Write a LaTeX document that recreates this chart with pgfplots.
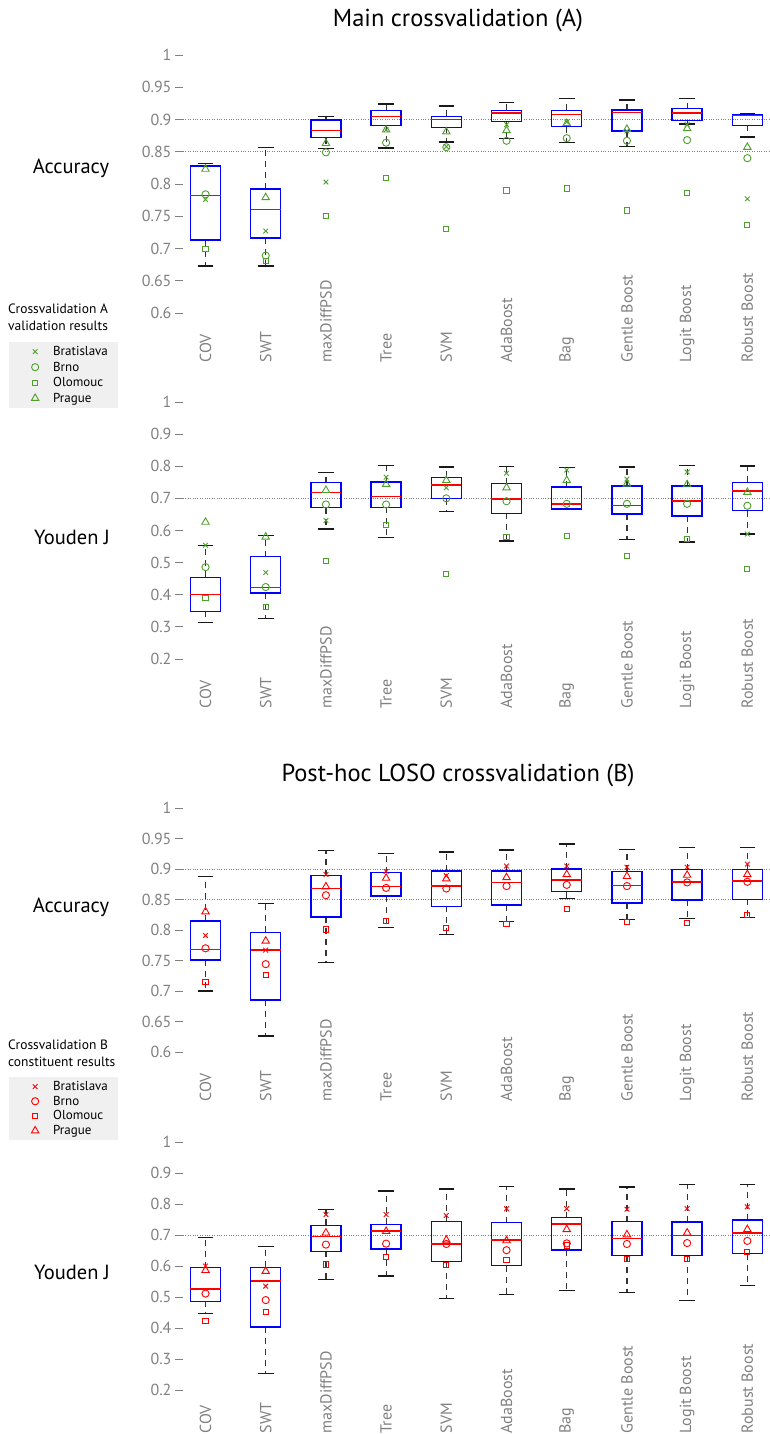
\documentclass[border=0pt]{standalone}
\usepackage{pgfplots}
\pgfplotsset{compat=1.18}
\usepackage{pgfplotstable}
\usepackage{fontspec}
\setmainfont{PT Sans}

\definecolor{grn}{RGB}{77,160,45}
\definecolor{tickgray}{RGB}{128,128,128}

% box statistics: position, lower whisker, lower quartile, median, upper quartile, upper whisker
\pgfplotstableread{
x lw q1 med q3 uw
0 0.673 0.713 0.782 0.828 0.832
1 0.673 0.716 0.760 0.792 0.857
2 0.855 0.872 0.883 0.899 0.905
3 0.856 0.891 0.905 0.914 0.924
4 0.865 0.888 0.900 0.905 0.921
5 0.871 0.897 0.910 0.914 0.926
6 0.864 0.889 0.908 0.914 0.933
7 0.858 0.882 0.911 0.915 0.930
8 0.893 0.898 0.910 0.917 0.932
9 0.873 0.891 0.906 0.908 0.909
}\accA
\pgfplotstableread{
x lw q1 med q3 uw
0 0.314 0.348 0.400 0.454 0.554
1 0.326 0.406 0.422 0.519 0.585
2 0.605 0.671 0.719 0.749 0.781
3 0.578 0.672 0.705 0.751 0.802
4 0.660 0.699 0.742 0.765 0.798
5 0.567 0.653 0.698 0.746 0.799
6 0.665 0.667 0.683 0.735 0.795
7 0.572 0.651 0.677 0.739 0.798
8 0.564 0.645 0.692 0.739 0.803
9 0.589 0.662 0.723 0.750 0.801
}\youA
\pgfplotstableread{
x lw q1 med q3 uw
0 0.700 0.751 0.768 0.815 0.888
1 0.626 0.685 0.767 0.796 0.844
2 0.747 0.821 0.868 0.889 0.930
3 0.804 0.856 0.871 0.894 0.925
4 0.793 0.839 0.872 0.897 0.928
5 0.814 0.841 0.878 0.897 0.931
6 0.852 0.863 0.882 0.900 0.941
7 0.817 0.844 0.873 0.896 0.932
8 0.819 0.849 0.879 0.899 0.935
9 0.821 0.850 0.880 0.899 0.935
}\accB
\pgfplotstableread{
x lw q1 med q3 uw
0 0.446 0.486 0.526 0.595 0.692
1 0.253 0.403 0.551 0.596 0.662
2 0.557 0.647 0.695 0.731 0.782
3 0.568 0.655 0.713 0.734 0.842
4 0.496 0.614 0.671 0.743 0.848
5 0.509 0.601 0.684 0.740 0.856
6 0.522 0.652 0.735 0.756 0.848
7 0.515 0.633 0.688 0.743 0.855
8 0.489 0.633 0.698 0.742 0.864
9 0.538 0.640 0.706 0.748 0.862
}\youB

\pgfplotsset{
  panel/.style={
    scale only axis, width=586pt,
    xmin=-0.374, xmax=9.36,
    axis line style={draw=none},
    xtick={0,...,9},
    xticklabels={COV,SWT,maxDiffPSD,Tree,SVM,AdaBoost,Bag,Gentle Boost,Logit Boost,Robust Boost},
    xtick style={draw=none},
    xticklabel style={rotate=90, anchor=west, font=\fontsize{16}{16}\selectfont, text=tickgray},
    ytick pos=left,
    ytick style={draw=tickgray, line width=0.8pt},
    tick align=outside, major tick length=8pt,
    yticklabel style={font=\fontsize{16}{16}\selectfont, text=tickgray},
    /pgf/number format/assume math mode=true,
    /pgf/number format/fixed,
    /pgf/number format/precision=2,
    extra y tick labels={},
    extra y tick style={grid=major, major tick length=0pt,
      major grid style={tickgray, dotted, line width=0.9pt}},
    legend cell align=left,
    legend style={fill=black!6, draw=none, font=\fontsize{13}{15}\selectfont,
      inner xsep=8pt, inner ysep=2pt},
  },
  % dashed whisker stems
  whisk/.style={forget plot, draw=none, mark=none,
    error bars/y explicit,
    error bars/error bar style={draw=black!80, line width=1.2pt, dash pattern=on 6pt off 5pt},
    error bars/error mark=none},
  % solid whisker caps
  caps/.style={forget plot, only marks, mark=-, mark size=7.8pt,
    mark options={draw=black!90, line width=1.3pt}},
  % vertical box sides
  bside/.style={forget plot, draw=none, mark=none,
    error bars/y explicit, error bars/y dir=plus,
    error bars/error bar style={draw=blue, line width=1.4pt, solid},
    error bars/error mark=none},
  % horizontal box edges and median
  bedge/.style={forget plot, only marks, mark=-, mark size=15.05pt,
    mark options={draw=blue, line width=1.4pt, line cap=rect}},
  bmed/.style={forget plot, only marks, mark=-, mark size=15.05pt,
    mark options={draw=red, line width=1.4pt}},
  limg/.style={legend image code/.code={\path[draw=none, fill=none] (-18pt,0pt) -- (16pt,0pt);
    \draw[##1,/tikz/only marks] plot coordinates {(0pt,0pt)};}},
  sBra/.style={only marks, mark=x, mark size=3.3pt, mark options={line width=0.9pt}, limg},
  sBrn/.style={only marks, mark=o, mark size=3.6pt, mark options={line width=0.9pt}, limg},
  sOlo/.style={only marks, mark=square, mark size=2.6pt, mark options={line width=0.9pt}, limg},
  sPra/.style={only marks, mark=triangle, mark size=4.3pt, mark options={line width=0.9pt}, limg},
}

% whiskers, caps, boxes and medians of one panel
\newcommand{\boxes}[1]{%
  \addplot[whisk, error bars/y dir=plus] table[x=x, y=q3, y error plus expr=\thisrow{uw}-\thisrow{q3}] {#1};
  \addplot[whisk, error bars/y dir=minus] table[x=x, y=q1, y error minus expr=\thisrow{q1}-\thisrow{lw}] {#1};
  \addplot[caps] table[x=x, y=uw] {#1};
  \addplot[caps] table[x=x, y=lw] {#1};
  \addplot[bside] table[x expr=\thisrow{x}-0.25, y=q1, y error plus expr=\thisrow{q3}-\thisrow{q1}] {#1};
  \addplot[bside] table[x expr=\thisrow{x}+0.25, y=q1, y error plus expr=\thisrow{q3}-\thisrow{q1}] {#1};
  \addplot[bedge] table[x=x, y=q1] {#1};
  \addplot[bedge] table[x=x, y=q3] {#1};
  \addplot[bmed] table[x=x, y=med] {#1};
}

\begin{document}
\begin{tikzpicture}
\useasboundingbox (0pt,0pt) rectangle (769pt,1434pt);

% ---------------- Crossvalidation A ----------------
\node[font=\fontsize{24.5}{24.5}\selectfont] at (458pt,1414pt) {Main crossvalidation (A)};
\node[font=\fontsize{20.5}{20.5}\selectfont] at (71pt,1266pt) {Accuracy};
\node[font=\fontsize{13.5}{17}\selectfont, align=left, anchor=north west, inner sep=0pt] at (8pt,1130pt)
  {Crossvalidation A\\validation results};

\begin{axis}[panel, at={(183pt,1121pt)}, anchor=south west, height=258pt,
  ymin=0.6, ymax=1,
  ytick={0.6,0.65,0.7,0.75,0.8,0.85,0.9,0.95,1},
  extra y ticks={0.85,0.9},
  xticklabel shift=45pt,
  legend style={at={(-0.297,-0.113)}, anchor=north west, row sep=0.8pt}]
\boxes{\accA}
\addplot[sBra, grn] coordinates {(0,0.776) (1,0.727) (2,0.803) (3,0.884) (4,0.858) (5,0.892) (6,0.896) (7,0.882) (8,0.892) (9,0.777)};
\addlegendentry{Bratislava}
\addplot[sBrn, grn] coordinates {(0,0.784) (1,0.689) (2,0.849) (3,0.864) (4,0.857) (5,0.867) (6,0.871) (7,0.867) (8,0.868) (9,0.840)};
\addlegendentry{Brno}
\addplot[sOlo, grn] coordinates {(0,0.699) (1,0.681) (2,0.751) (3,0.809) (4,0.730) (5,0.790) (6,0.793) (7,0.759) (8,0.786) (9,0.737)};
\addlegendentry{Olomouc}
\addplot[sPra, grn] coordinates {(0,0.823) (1,0.779) (2,0.863) (3,0.884) (4,0.881) (5,0.883) (6,0.894) (7,0.885) (8,0.886) (9,0.857)};
\addlegendentry{Prague}
\end{axis}

\node[font=\fontsize{20.5}{20.5}\selectfont] at (72pt,897pt) {Youden J};
\begin{axis}[panel, at={(183pt,775pt)}, anchor=south west, height=257pt,
  ymin=0.2, ymax=1,
  ytick={0.2,0.3,0.4,0.5,0.6,0.7,0.8,0.9,1},
  extra y ticks={0.7},
  xticklabel shift=45pt]
\boxes{\youA}
\addplot[sBra, grn] coordinates {(0,0.554) (1,0.469) (2,0.631) (3,0.766) (4,0.733) (5,0.778) (6,0.788) (7,0.760) (8,0.782) (9,0.589)};
\addplot[sBrn, grn] coordinates {(0,0.486) (1,0.424) (2,0.681) (3,0.681) (4,0.700) (5,0.691) (6,0.683) (7,0.683) (8,0.683) (9,0.677)};
\addplot[sOlo, grn] coordinates {(0,0.390) (1,0.362) (2,0.505) (3,0.618) (4,0.464) (5,0.579) (6,0.584) (7,0.520) (8,0.574) (9,0.481)};
\addplot[sPra, grn] coordinates {(0,0.626) (1,0.580) (2,0.725) (3,0.744) (4,0.756) (5,0.733) (6,0.756) (7,0.745) (8,0.743) (9,0.719)};
\end{axis}

% ---------------- Crossvalidation B ----------------
\node[font=\fontsize{24.5}{24.5}\selectfont] at (458pt,659pt) {Post-hoc LOSO crossvalidation (B)};
\node[font=\fontsize{20.5}{20.5}\selectfont] at (71pt,527pt) {Accuracy};
\node[font=\fontsize{13.5}{17}\selectfont, align=left, anchor=north west, inner sep=0pt] at (8pt,394pt)
  {Crossvalidation B\\constituent results};

\begin{axis}[panel, at={(183pt,382pt)}, anchor=south west, height=244pt,
  ymin=0.6, ymax=1,
  ytick={0.6,0.65,0.7,0.75,0.8,0.85,0.9,0.95,1},
  extra y ticks={0.85,0.9},
  xticklabel shift=45pt,
  legend style={at={(-0.297,-0.1025)}, anchor=north west}]
\boxes{\accB}
\addplot[sBra, red] coordinates {(0,0.791) (1,0.767) (2,0.891) (3,0.896) (4,0.889) (5,0.905) (6,0.905) (7,0.903) (8,0.903) (9,0.908)};
\addlegendentry{Bratislava}
\addplot[sBrn, red] coordinates {(0,0.770) (1,0.744) (2,0.857) (3,0.869) (4,0.868) (5,0.872) (6,0.874) (7,0.872) (8,0.878) (9,0.879)};
\addlegendentry{Brno}
\addplot[sOlo, red] coordinates {(0,0.715) (1,0.726) (2,0.801) (3,0.815) (4,0.803) (5,0.810) (6,0.834) (7,0.813) (8,0.811) (9,0.825)};
\addlegendentry{Olomouc}
\addplot[sPra, red] coordinates {(0,0.830) (1,0.782) (2,0.871) (3,0.885) (4,0.884) (5,0.886) (6,0.891) (7,0.888) (8,0.890) (9,0.891)};
\addlegendentry{Prague}
\end{axis}

\node[font=\fontsize{20.5}{20.5}\selectfont] at (72pt,162pt) {Youden J};
\begin{axis}[panel, at={(183pt,44pt)}, anchor=south west, height=248pt,
  ymin=0.2, ymax=1,
  ytick={0.2,0.3,0.4,0.5,0.6,0.7,0.8,0.9,1},
  extra y ticks={0.7},
  xticklabel shift=39pt]
\boxes{\youB}
\addplot[sBra, red] coordinates {(0,0.600) (1,0.535) (2,0.766) (3,0.766) (4,0.763) (5,0.785) (6,0.785) (7,0.783) (8,0.785) (9,0.791)};
\addplot[sBrn, red] coordinates {(0,0.511) (1,0.490) (2,0.669) (3,0.672) (4,0.671) (5,0.651) (6,0.673) (7,0.671) (8,0.674) (9,0.681)};
\addplot[sOlo, red] coordinates {(0,0.424) (1,0.451) (2,0.605) (3,0.628) (4,0.604) (5,0.619) (6,0.666) (7,0.624) (8,0.622) (9,0.645)};
\addplot[sPra, red] coordinates {(0,0.586) (1,0.583) (2,0.707) (3,0.712) (4,0.684) (5,0.682) (6,0.718) (7,0.701) (8,0.707) (9,0.718)};
\end{axis}
\end{tikzpicture}
\end{document}
